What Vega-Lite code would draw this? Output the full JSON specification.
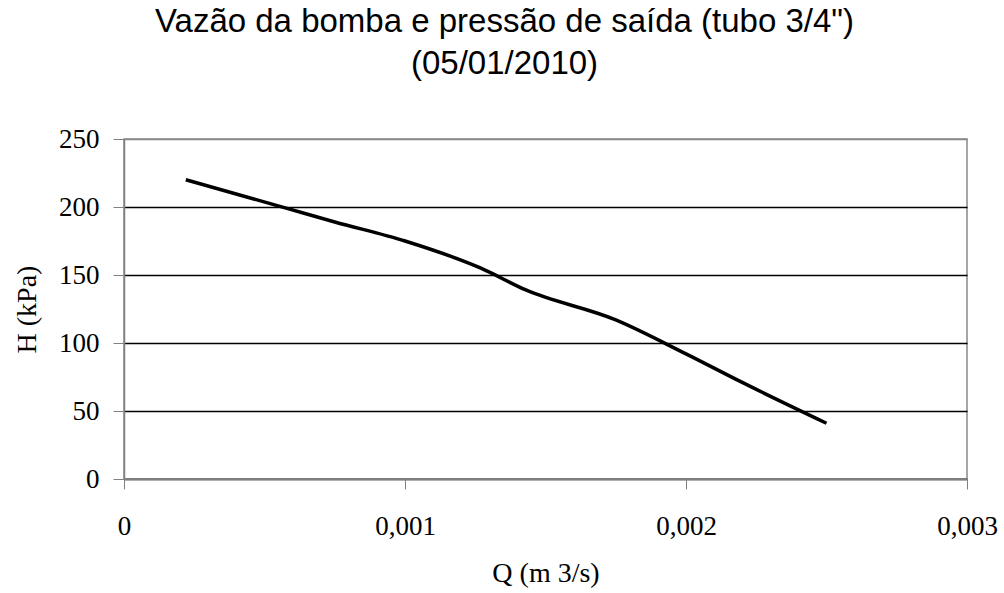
{
  "$schema": "https://vega.github.io/schema/vega-lite/v6.json",
  "autosize": "none",
  "width": 843,
  "height": 340,
  "padding": {"left": 124, "top": 139, "right": 37, "bottom": 114},
  "background": "white",
  "config": {
    "view": {"stroke": "#888888", "strokeWidth": 1.5},
    "axis": {
      "labelFont": "Liberation Serif",
      "titleFont": "Liberation Serif",
      "labelFontSize": 27,
      "titleFontSize": 28,
      "labelColor": "black",
      "titleColor": "black",
      "titleFontWeight": "normal",
      "domainColor": "#808080",
      "domainWidth": 1.5,
      "tickColor": "#808080",
      "tickWidth": 1
    }
  },
  "title": {
    "text": ["Vazão da bomba e pressão de saída (tubo 3/4\")", "(05/01/2010)"],
    "font": "Liberation Sans",
    "fontSize": 33,
    "fontWeight": "normal",
    "color": "black",
    "anchor": "middle",
    "frame": "group",
    "dx": -41,
    "lineHeight": 42,
    "offset": 44
  },
  "data": {
    "values": [
      {"Q": 0.00022, "H": 220},
      {"Q": 0.00058, "H": 199},
      {"Q": 0.00075, "H": 189},
      {"Q": 0.001, "H": 175},
      {"Q": 0.00127, "H": 155},
      {"Q": 0.00143, "H": 139},
      {"Q": 0.00175, "H": 117},
      {"Q": 0.002, "H": 92},
      {"Q": 0.0022, "H": 71},
      {"Q": 0.0025, "H": 41}
    ]
  },
  "mark": {"type": "line", "color": "black", "strokeWidth": 3.5, "interpolate": "monotone"},
  "encoding": {
    "x": {
      "field": "Q",
      "type": "quantitative",
      "title": "Q (m 3/s)",
      "scale": {"domain": [0, 0.003], "nice": false},
      "axis": {
        "values": [0, 0.001, 0.002, 0.003],
        "labelExpr": "datum.value == 0 ? '0' : replace(format(datum.value, '.3f'), '.', ',')",
        "grid": false,
        "tickSize": 10,
        "labelPadding": 24,
        "titlePadding": 20,
        "labelFlush": false
      }
    },
    "y": {
      "field": "H",
      "type": "quantitative",
      "title": "H (kPa)",
      "scale": {"domain": [0, 250], "nice": false},
      "axis": {
        "values": [0, 50, 100, 150, 200, 250],
        "grid": true,
        "gridColor": {"condition": {"test": "datum.value >= 250", "value": "#888888"}, "value": "#000000"},
        "gridWidth": 1.3,
        "gridOpacity": 1,
        "tickSize": 11,
        "labelPadding": 14,
        "titlePadding": 17
      }
    }
  }
}
